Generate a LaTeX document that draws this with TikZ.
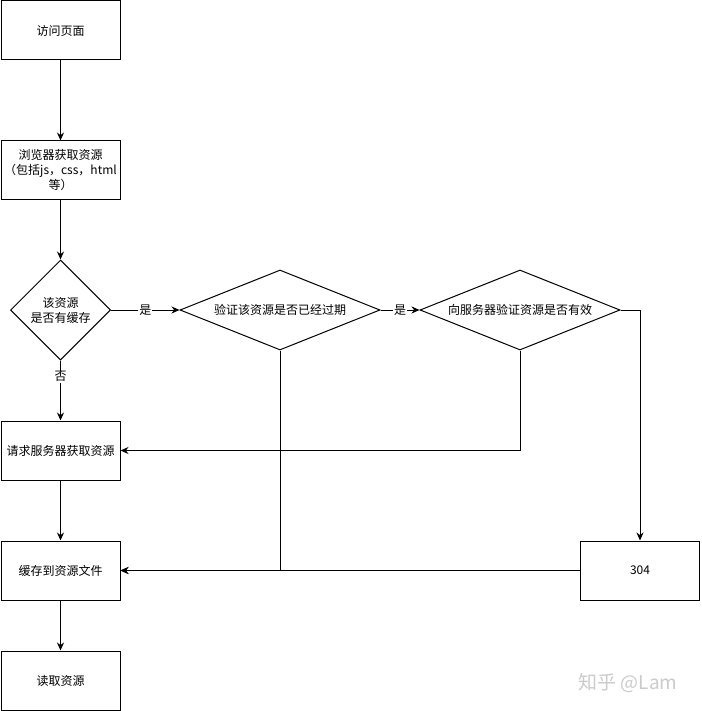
\documentclass[tikz,border=0pt]{standalone}
\usepackage{fontspec}
\setmainfont{Noto Sans CJK SC}
\usetikzlibrary{positioning,arrows.meta,shapes.geometric}
\definecolor{Trazo}{HTML}{000000}
\definecolor{Marca}{HTML}{CBCBCB}

\begin{document}
\begin{tikzpicture}[x=1pt,y=-1pt,
    caja/.style={draw=Trazo,line width=1pt,minimum width=119pt,minimum height=59pt,
      inner sep=0pt,align=center,font=\fontsize{12}{15}\selectfont},
    rombo/.style={draw=Trazo,line width=1pt,diamond,inner sep=0pt,align=center,
      font=\fontsize{12}{15}\selectfont},
    flecha/.style={draw=Trazo,line width=1pt,-{Stealth[length=8pt,width=7pt]}},
    etiqueta/.style={fill=white,inner sep=1pt,font=\fontsize{12}{14}\selectfont}]
  \fill[white] (0,0) rectangle (701,711);
  \useasboundingbox (0,0) rectangle (701,711);
  % columna izquierda
  \node[caja] (visita) at (60.5,30.5) {访问页面};
  \node[caja] (obtener) at (60.5,170.5) {浏览器获取资源\\（包括js，css，html\\等）};
  \node[rombo,minimum width=100pt,minimum height=100pt] (cache) at (60.5,310) {该资源\\是否有缓存};
  \node[caja] (pedir) at (60.5,450.5) {请求服务器获取资源};
  \node[caja] (guardar) at (60.5,570.5) {缓存到资源文件};
  \node[caja] (leer) at (60.5,680.5) {读取资源};
  % fila de decisiones
  \node[rombo,minimum width=200pt,minimum height=80pt,aspect=2.5] (expira) at (280,310) {验证该资源是否已经过期};
  \node[rombo,minimum width=200pt,minimum height=80pt,aspect=2.5] (valida) at (520,310) {向服务器验证资源是否有效};
  \node[caja] (nomod) at (640,570.5) {304};
  \node[text=Marca,font=\fontsize{19}{22}\selectfont] (marca) at (628,683) {知乎 @Lam};
  % conectores
  \draw[flecha] (visita) -- (obtener);
  \draw[flecha] (obtener) -- (cache);
  \draw[flecha] (cache) -- node[etiqueta] {是} (expira);
  \draw[flecha] (expira) -- node[etiqueta] {是} (valida);
  \draw[flecha] (cache) -- node[etiqueta,pos=0.27] {否} (pedir);
  \draw[flecha] (valida.south) |- (pedir.east);
  \draw[flecha] (expira.south) |- (guardar.east);
  \draw[flecha] (valida.east) -| (nomod.north);
  \draw[flecha] (nomod.west) -- (guardar.east);
  \draw[flecha] (pedir) -- (guardar);
  \draw[flecha] (guardar) -- (leer);
\end{tikzpicture}
\end{document}
